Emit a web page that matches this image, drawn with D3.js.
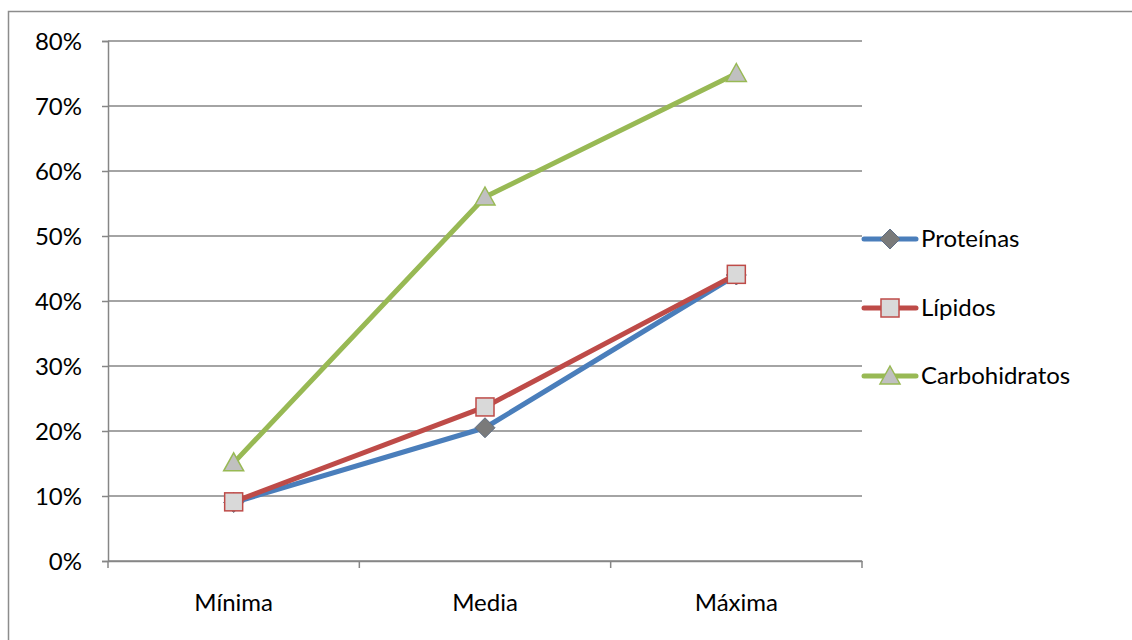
<!DOCTYPE html>
<html>
<head>
<meta charset="utf-8">
<script src="https://cdn.jsdelivr.net/npm/d3@7"></script>
<style>
  html, body { margin: 0; padding: 0; background: #fff; }
  svg text { font-family: Lato, "Open Sans", sans-serif; fill: #000; }
</style>
</head>
<body>
<svg id="chart" width="1132" height="640"></svg>
<script>
// Nutrient share by intake level
const categories = ["Mínima", "Media", "Máxima"];
const proteinas = [0.09, 0.205, 0.44];
const lipidos = [0.091, 0.237, 0.441];
const carbohidratos = [0.151, 0.56, 0.75];
const yTicks = [0, 0.1, 0.2, 0.3, 0.4, 0.5, 0.6, 0.7, 0.8];

const series = [
  { name: "Proteínas", values: proteinas, color: "#4a7ebb", marker: "diamond", fill: "#7a7a7a", mstroke: "#5f6f86" },
  { name: "Lípidos", values: lipidos, color: "#be4b48", marker: "square", fill: "#d9d9d9", mstroke: "#be4b48" },
  { name: "Carbohidratos", values: carbohidratos, color: "#98b954", marker: "triangle", fill: "#c0c0c0", mstroke: "#98b954" }
];

const svg = d3.select("#chart");
const plotLeft = 108, plotRight = 862, plotTop = 41, plotBottom = 561;
const fontSize = 24;

// outer chart frame
svg.append("rect")
  .attr("x", 8.5).attr("y", 11.5)
  .attr("width", 1140).attr("height", 650)
  .attr("fill", "none").attr("stroke", "#8c8c8c").attr("stroke-width", 1.5);

const x = d3.scaleBand().domain(categories).range([plotLeft, plotRight]);
const y = d3.scaleLinear().domain([0, 0.8]).range([plotBottom, plotTop]);

// horizontal gridlines
svg.append("g").selectAll("line").data(yTicks).join("line")
  .attr("x1", plotLeft).attr("x2", plotRight)
  .attr("y1", d => y(d)).attr("y2", d => y(d))
  .attr("stroke", "#868686").attr("stroke-width", 1.5);

// y axis
const yAxis = svg.append("g").attr("transform", `translate(${plotLeft},0)`)
  .call(d3.axisLeft(y).tickValues(yTicks).tickFormat(d3.format(".0%")).tickSize(6).tickPadding(20));
yAxis.select(".domain").attr("stroke", "#868686").attr("stroke-width", 1.5);
yAxis.selectAll(".tick line").attr("stroke", "#868686").attr("stroke-width", 1.5);
yAxis.selectAll(".tick text").attr("font-size", fontSize).attr("font-family", "Lato, sans-serif").attr("fill", "#000").attr("dy", "0.35em");

// x axis with boundary ticks between categories
const xAxis = svg.append("g").attr("transform", `translate(0,${plotBottom})`)
  .call(d3.axisBottom(x).tickSize(0).tickPadding(33));
xAxis.select(".domain").attr("stroke", "#868686").attr("stroke-width", 1.5);
xAxis.selectAll(".tick text").attr("font-size", fontSize).attr("font-family", "Lato, sans-serif").attr("fill", "#000");
const bounds = categories.map(c => x(c)).concat([x(categories[categories.length - 1]) + x.bandwidth()]);
svg.append("g").selectAll("line").data(bounds).join("line")
  .attr("x1", d => d).attr("x2", d => d)
  .attr("y1", plotBottom).attr("y2", plotBottom + 7)
  .attr("stroke", "#868686").attr("stroke-width", 1.5);

const cx = c => x(c) + x.bandwidth() / 2;

function drawMarker(g, s, px, py) {
  if (s.marker === "diamond") {
    g.append("path").attr("d", `M${px},${py - 10}L${px + 10},${py}L${px},${py + 10}L${px - 10},${py}Z`)
      .attr("fill", s.fill).attr("stroke", s.mstroke).attr("stroke-width", 1);
  } else if (s.marker === "square") {
    g.append("rect").attr("x", px - 9).attr("y", py - 9).attr("width", 18).attr("height", 18)
      .attr("fill", s.fill).attr("stroke", s.mstroke).attr("stroke-width", 1.5);
  } else {
    g.append("path").attr("d", `M${px},${py - 10}L${px + 10},${py + 8}L${px - 10},${py + 8}Z`)
      .attr("fill", s.fill).attr("stroke", s.mstroke).attr("stroke-width", 1.5);
  }
}

const line = d3.line().x((d, i) => cx(categories[i])).y(d => y(d));

series.forEach(s => {
  svg.append("path").datum(s.values)
    .attr("d", line)
    .attr("fill", "none").attr("stroke", s.color)
    .attr("stroke-width", 5).attr("stroke-linejoin", "round").attr("stroke-linecap", "round");
});
series.forEach(s => {
  const g = svg.append("g");
  s.values.forEach((v, i) => drawMarker(g, s, cx(categories[i]), y(v)));
});

// legend
const legendY = [239, 308, 376];
series.forEach((s, i) => {
  const g = svg.append("g");
  const ly = legendY[i];
  g.append("line").attr("x1", 864).attr("x2", 916).attr("y1", ly).attr("y2", ly)
    .attr("stroke", s.color).attr("stroke-width", 5).attr("stroke-linecap", "round");
  drawMarker(g, s, 890, ly);
  g.append("text").attr("x", 921).attr("y", ly).attr("dy", "0.35em")
    .attr("font-size", fontSize).text(s.name);
});
</script>
</body>
</html>
